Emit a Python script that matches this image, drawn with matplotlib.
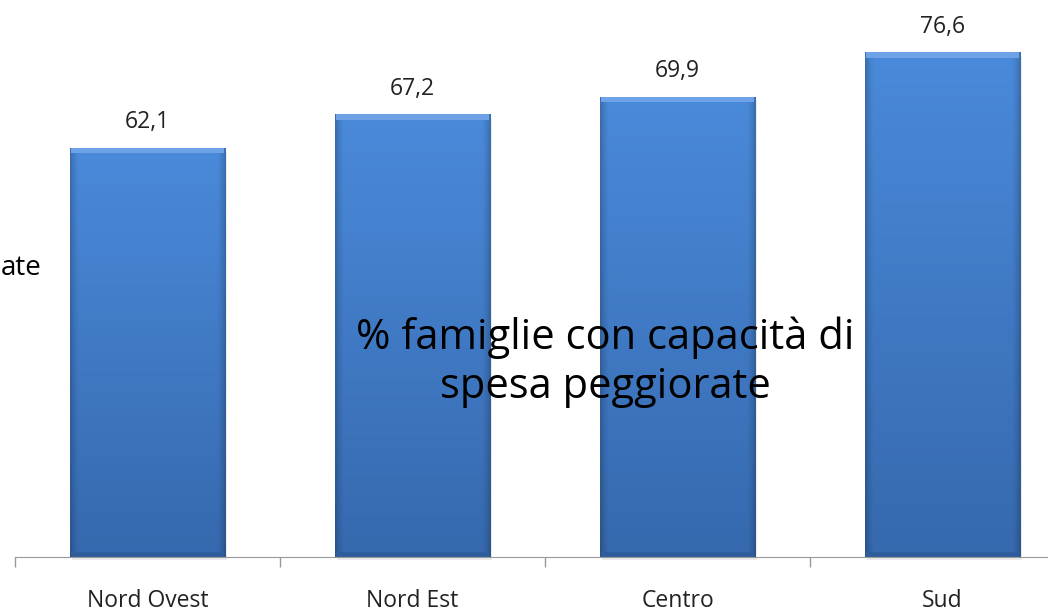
import numpy as np
import matplotlib
matplotlib.use("Agg")
import matplotlib.pyplot as plt

regions = ["Nord Ovest", "Nord Est", "Centro", "Sud"]
values = [62.1, 67.2, 69.9, 76.6]
value_labels = ["62,1", "67,2", "69,9", "76,6"]
title_text = "% famiglie con capacità di\nspesa peggiorate"

plt.rcParams['font.family'] = ['Open Sans', 'DejaVu Sans']

fig = plt.figure(figsize=(10.48, 6.15), dpi=100)
# axis runs off the right edge, as in the original slide
ax = fig.add_axes([15 / 1048, 58 / 615, 1060 / 1048, 527 / 615])

x = np.arange(len(regions))
bars = ax.bar(x, values, width=0.585, color="#4682d0", zorder=2)

# gradient fill for the bevelled look
nx, ny = 80, 200
u = np.linspace(0, 1, nx)
side = np.clip(np.minimum(u, 1 - u) / 0.05, 0, 1) ** 0.7
top = np.array([0x4a, 0x8a, 0xda]) / 255
bottom = np.array([0x36, 0x69, 0xae]) / 255
for b in bars:
    x0, w, h = b.get_x(), b.get_width(), b.get_height()
    v = np.linspace(0, 1, ny)[:, None, None]   # 0 = bottom
    col = bottom + (top - bottom) * v
    col = col * (0.8 + 0.2 * side[None, :, None])
    col = np.clip(col, 0, 1)
    im = ax.imshow(col, extent=(x0, x0 + w, 0, h), origin="lower",
                   aspect="auto", zorder=3, interpolation="bilinear")
    im.set_clip_path(b)
    # soft shadow under the bar
    ax.fill_between([x0 + 0.006, x0 + w + 0.006], -0.4, h - 0.6,
                    color="#000000", alpha=0.08, zorder=1, lw=0, clip_on=False)
    # bevels
    ax.fill_between([x0 + 0.005, x0 + w - 0.005], h - 0.8, h,
                    color="#6ea2e6", zorder=4, lw=0)
    ax.fill_between([x0 + 0.005, x0 + w - 0.005], 0, 0.7,
                    color="#2f5d9c", zorder=4, lw=0)

for xi, val, lab in zip(x, values, value_labels):
    ax.text(xi, val + 3.9, lab, ha="center", va="center", fontsize=16.5,
            color="#222222")

ax.set_xlim(-0.5, len(regions) - 0.5)
ax.set_ylim(0, 80)
ax.set_xticks(x)
ax.set_xticklabels(regions, fontsize=16.5, color="#222222")
ax.tick_params(axis="x", length=0, pad=23)
ax.set_xticks(np.arange(-0.5, len(regions)), minor=True)
ax.tick_params(axis="x", which="minor", length=7, color="#999999", width=1)
ax.set_yticks([])
for s in ["top", "right", "left"]:
    ax.spines[s].set_visible(False)
ax.spines["bottom"].set_color("#999999")
ax.spines["bottom"].set_zorder(6)

fig.text(42 / 1048, 1 - 268 / 615, "ate", ha="right", va="center", fontsize=20)
fig.text(605 / 1048, 1 - 362 / 615, title_text, ha="center", va="center",
         fontsize=30, linespacing=1.22, zorder=10)

fig.savefig("out.png", dpi=100)
